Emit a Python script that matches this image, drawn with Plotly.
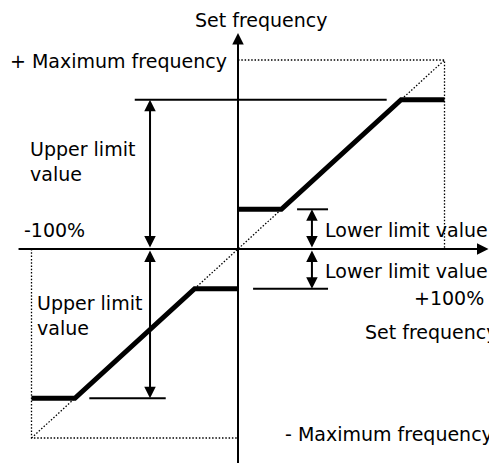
import plotly.graph_objects as go

# ---- data (percent of maximum frequency) ----
max_pct = 100
upper_limit = 79
lower_limit = 21

curve_x = [-max_pct, -upper_limit, -lower_limit, 0, None, 0, lower_limit, upper_limit, max_pct]
curve_y = [-upper_limit, -upper_limit, -lower_limit, -lower_limit, None,
           lower_limit, lower_limit, upper_limit, upper_limit]

labels = {
    "top_axis": "Set frequency",
    "right_axis": "Set frequency",
    "pos_max": "+ Maximum frequency",
    "neg_max": "- Maximum frequency",
    "neg100": "-100%",
    "pos100": "+100%",
    "upper": "Upper limit<br>value",
    "lower": "Lower limit value",
}

FONT = dict(family="DejaVu Sans", size=19, color="black")

fig = go.Figure()

# dotted reference frame + diagonal
fig.add_trace(go.Scatter(
    x=[0, max_pct, max_pct, None, -max_pct, -max_pct, 0, None, -max_pct, max_pct],
    y=[max_pct, max_pct, 0, None, 0, -max_pct, -max_pct, None, -max_pct, max_pct],
    mode="lines", line=dict(color="black", width=1.3, dash="1.5px,1.8px"),
    hoverinfo="skip", showlegend=False))

# thin guide lines
fig.add_trace(go.Scatter(
    x=[-50, 72, None, -72, -35, None, 28.6, 43.6, None, 7.3, 43.6],
    y=[upper_limit, upper_limit, None, -upper_limit, -upper_limit, None,
       lower_limit, lower_limit, None, -lower_limit, -lower_limit],
    mode="lines", line=dict(color="black", width=2),
    hoverinfo="skip", showlegend=False))

# characteristic curve
fig.add_trace(go.Scatter(
    x=curve_x, y=curve_y, mode="lines",
    line=dict(color="black", width=5),
    hoverinfo="skip", showlegend=False))

arrow_common = dict(xref="x", yref="y", axref="x", ayref="y", text="",
                    showarrow=True, arrowhead=2, arrowsize=1.15, arrowwidth=2,
                    arrowcolor="black", standoff=0, startstandoff=0)

# axes with arrowheads
fig.add_annotation(x=0, y=114.3, ax=0, ay=-114, **arrow_common)
fig.add_annotation(x=121.3, y=0, ax=-107, ay=0, **arrow_common)

# double-headed dimension arrows
for xa, y0, y1 in [(-42.6, 0, upper_limit), (-42.6, 0, -upper_limit),
                   (35.8, 0, lower_limit), (35.8, 0, -lower_limit)]:
    d = dict(arrow_common)
    d.update(arrowside="end+start", startarrowhead=2, startarrowsize=1.15)
    fig.add_annotation(x=xa, y=y1, ax=xa, ay=y0, **d)

text_common = dict(xref="x", yref="y", showarrow=False, font=FONT,
                   xanchor="left", yanchor="middle", align="left")
fig.add_annotation(x=-21.8, y=120.9, text=labels["top_axis"], **text_common)
fig.add_annotation(x=-111.2, y=99.5, text=labels["pos_max"], **text_common)
fig.add_annotation(x=-101.7, y=46.3, text=labels["upper"], **text_common)
fig.add_annotation(x=-104.6, y=10.1, text=labels["neg100"], **text_common)
fig.add_annotation(x=41.2, y=10.1, text=labels["lower"], **text_common)
fig.add_annotation(x=41.2, y=-11.6, text=labels["lower"], **text_common)
fig.add_annotation(x=84.3, y=-25.7, text=labels["pos100"], **text_common)
fig.add_annotation(x=60.5, y=-43.7, text=labels["right_axis"], **text_common)
fig.add_annotation(x=-98.3, y=-35.4, text=labels["upper"], **text_common)
fig.add_annotation(x=21.8, y=-97.9, text=labels["neg_max"], **text_common)

# page body has an 8px margin, so the figure is 8px smaller and ranges start there
fig.update_xaxes(range=[-111.38, 125.42], visible=False, fixedrange=True)
fig.update_yaxes(range=[-113.76, 127.51], visible=False, fixedrange=True)
fig.update_layout(width=489, height=456, margin=dict(l=0, r=0, t=0, b=0),
                  plot_bgcolor="white", paper_bgcolor="white")

fig.write_html("out.html", config={"displayModeBar": False})
